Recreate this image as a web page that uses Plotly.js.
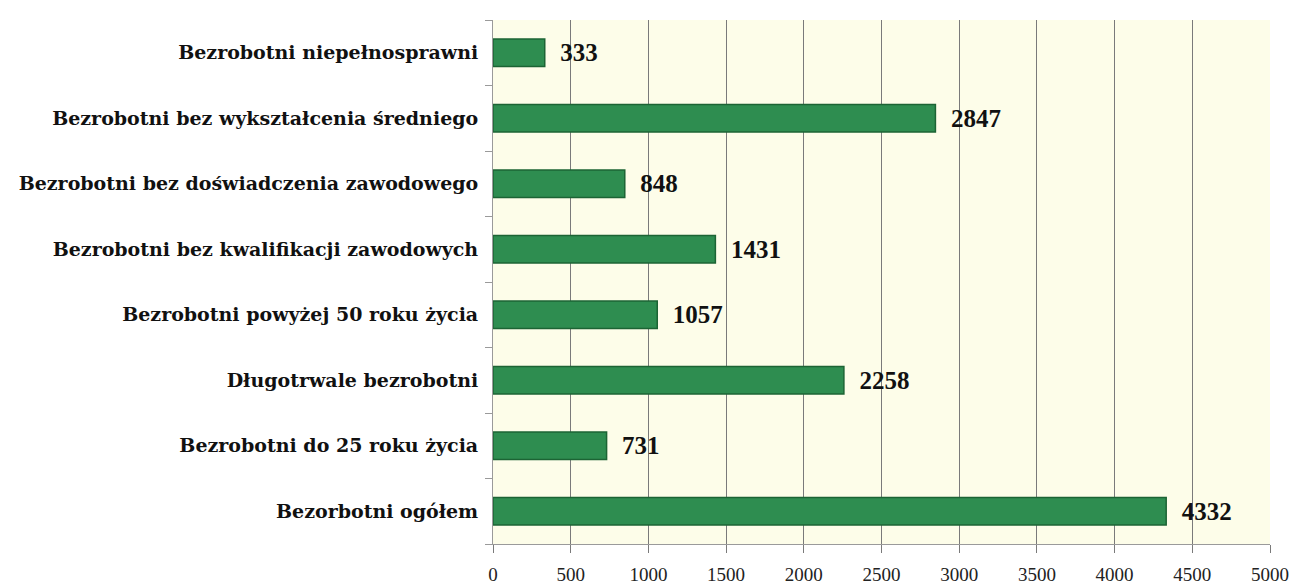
<!DOCTYPE html>
<html><head><meta charset="utf-8">
<script src="https://cdn.plot.ly/plotly-3.0.1.min.js"></script>
<style>body{margin:0;background:#fff}#c{width:1303px;height:586px}</style>
</head><body><div id="c"></div>
<script>
const categories = [
  "Bezorbotni ogółem",
  "Bezrobotni do 25 roku życia",
  "Długotrwale bezrobotni",
  "Bezrobotni powyżej 50 roku życia",
  "Bezrobotni bez kwalifikacji zawodowych",
  "Bezrobotni bez doświadczenia zawodowego",
  "Bezrobotni bez wykształcenia średniego",
  "Bezrobotni niepełnosprawni"
];
const values = [4332, 731, 2258, 1057, 1431, 848, 2847, 333];
const xTicks = [0,500,1000,1500,2000,2500,3000,3500,4000,4500,5000];

Plotly.newPlot('c', [{
  type: 'bar', orientation: 'h',
  y: categories, x: values,
  texttemplate: '\u00a0\u00a0%{x}', textposition: 'outside', cliponaxis: false,
  textfont: {family: 'Liberation Serif', size: 25, color: '#111', weight: 'bold'},
  marker: {color: '#2e8d50', line: {color: '#1c6434', width: 1.5}},
  width: 0.42, hoverinfo: 'none'
}], {
  width: 1303, height: 586,
  margin: {l: 493, r: 33, t: 20, b: 42},
  paper_bgcolor: '#ffffff', plot_bgcolor: '#fdfde9',
  showlegend: false,
  font: {family: 'Liberation Serif', color: '#111'},
  xaxis: {range: [0, 5000], tickvals: xTicks, ticktext: xTicks.map(String),
    showgrid: true, gridcolor: '#7a7a7a', gridwidth: 1,
    showline: true, linecolor: '#9a9a9a', linewidth: 1,
    ticks: 'outside', ticklen: 8, tickcolor: '#7a7a7a', ticklabelstandoff: 5,
    tickfont: {family: 'Liberation Serif', size: 19, color: '#222'}, zeroline: false, fixedrange: true},
  yaxis: {showgrid: false, showline: true, linecolor: '#9a9a9a',
    ticks: 'outside', tickson: 'boundaries', ticklen: 7, tickcolor: '#9a9a9a',
    ticklabelstandoff: 10,
    tickfont: {family: 'DejaVu Serif', size: 19, color: '#111', weight: 'bold'}, fixedrange: true}
}, {staticPlot: true});
</script></body></html>
